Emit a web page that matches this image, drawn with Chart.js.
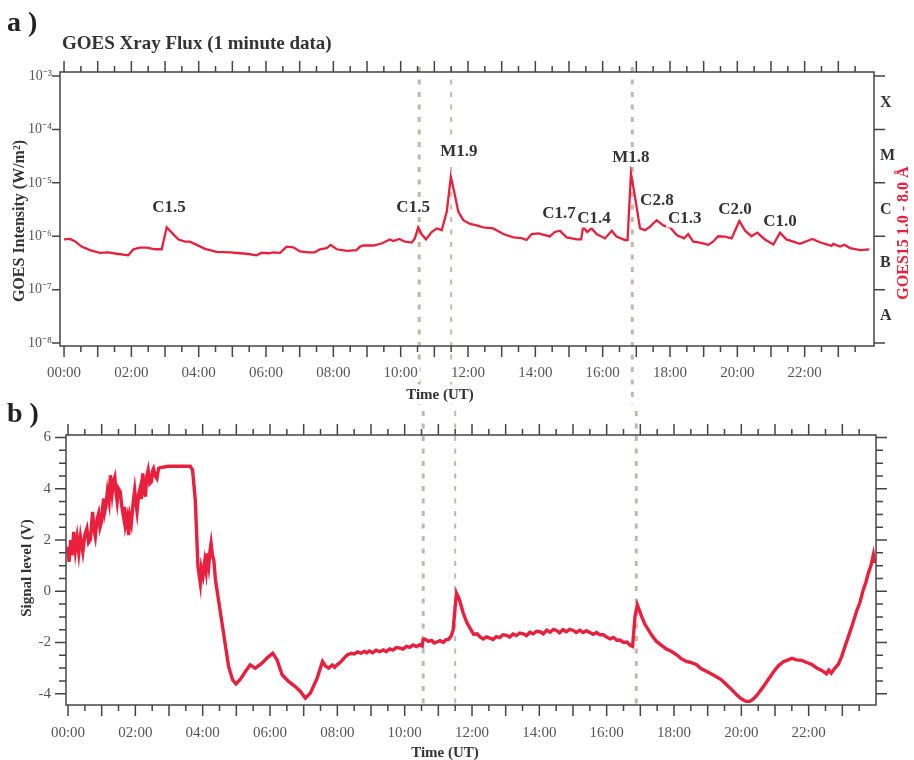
<!DOCTYPE html>
<html>
<head>
<meta charset="utf-8">
<script src="https://cdn.jsdelivr.net/npm/chart.js@4.4.1/dist/chart.umd.min.js"></script>
<style>
	body { margin: 0; background: #fff; }
	#wrap { position: relative; width: 914px; height: 760px; }
	#goes { position: absolute; left: 0; top: 0; }
	#vlf { position: absolute; left: 0; top: 390px; }
</style>
</head>
<body>
<div id="wrap">
	<canvas id="goes" width="914" height="405"></canvas>
	<canvas id="vlf" width="914" height="370"></canvas>
</div>
<script>
// GOES 1.0-8.0 A flux, hours UT / W m-2
var goesTime = [0, 0.18, 0.33, 0.52, 0.77, 1.07, 1.32, 1.56, 1.91, 2.06, 2.26, 2.46, 2.70, 2.90, 3.05, 3.20, 3.40, 3.59, 3.74, 3.94,
	4.19, 4.53, 4.93, 5.23, 5.43, 5.72, 5.87, 6.07, 6.22, 6.42, 6.61, 6.81, 7.01, 7.26, 7.45, 7.60, 7.80, 7.92, 8.10, 8.40,
	8.69, 8.79, 8.89, 9.19, 9.43, 9.68, 9.78, 9.96, 10.13, 10.33, 10.42, 10.52, 10.62, 10.75, 10.92, 11.07, 11.22, 11.37, 11.49, 11.61,
	11.71, 11.86, 12.06, 12.26, 12.45, 12.75, 13.05, 13.35, 13.59, 13.74, 13.89, 14.09, 14.29, 14.43, 14.58, 14.73, 14.93, 15.23, 15.36, 15.42,
	15.54, 15.67, 15.82, 16.07, 16.27, 16.41, 16.66, 16.74, 16.84, 16.96, 17.11, 17.26, 17.40, 17.60, 17.80, 18.00, 18.20, 18.42, 18.54, 18.69,
	18.89, 19.14, 19.28, 19.43, 19.63, 19.83, 20.06, 20.23, 20.42, 20.59, 20.82, 21.07, 21.27, 21.46, 21.66, 21.86, 22.23, 22.45, 22.80, 22.85,
	23.05, 23.18, 23.35, 23.65, 23.92];
var goesFlux = [8.7e-7, 8.9e-7, 8.0e-7, 6.4e-7, 5.5e-7, 4.9e-7, 5.0e-7, 4.7e-7, 4.4e-7, 5.7e-7, 6.1e-7, 6.1e-7, 5.7e-7, 5.7e-7, 1.47e-6, 1.17e-6, 8.7e-7, 7.9e-7, 7.9e-7, 6.9e-7,
	5.8e-7, 5.1e-7, 5.0e-7, 4.8e-7, 4.7e-7, 4.4e-7, 4.9e-7, 4.8e-7, 5.0e-7, 4.9e-7, 6.4e-7, 6.2e-7, 5.2e-7, 5.0e-7, 5.0e-7, 5.7e-7, 6.0e-7, 6.9e-7, 5.7e-7, 5.3e-7,
	5.5e-7, 6.4e-7, 6.7e-7, 6.7e-7, 7.3e-7, 8.7e-7, 8.1e-7, 8.9e-7, 7.9e-7, 7.6e-7, 9.1e-7, 1.47e-6, 1.1e-6, 8.7e-7, 1.2e-6, 1.4e-6, 1.3e-6, 2.9e-6, 1.3e-5, 5.9e-6,
	2.9e-6, 2.0e-6, 1.7e-6, 1.6e-6, 1.47e-6, 1.4e-6, 1.1e-6, 9.5e-7, 9.2e-7, 8.5e-7, 1.1e-6, 1.13e-6, 1.05e-6, 9.9e-7, 1.2e-6, 1.27e-6, 9.5e-7, 8.7e-7, 8.7e-7, 1.5e-6,
	1.2e-6, 1.4e-6, 1.1e-6, 9.1e-7, 1.27e-6, 9.9e-7, 8.5e-7, 8.5e-7, 1.5e-5, 5.5e-6, 1.4e-6, 1.3e-6, 1.5e-6, 2.0e-6, 1.6e-6, 1.47e-6, 1.05e-6, 9.1e-7, 1.1e-6, 7.9e-7,
	7.6e-7, 6.9e-7, 7.9e-7, 1.0e-6, 9.8e-7, 9.1e-7, 1.93e-6, 1.27e-6, 1.0e-6, 1.17e-6, 8.7e-7, 7.0e-7, 1.17e-6, 8.7e-7, 7.9e-7, 7.2e-7, 8.9e-7, 7.7e-7, 6.6e-7, 7.2e-7,
	6.4e-7, 6.9e-7, 6.0e-7, 5.5e-7, 5.7e-7];

// VLF receiver signal, hours UT / volts
var signalTime = [0.00, 0.03, 0.08, 0.12, 0.17, 0.22, 0.27, 0.32, 0.37, 0.44,
	0.50, 0.56, 0.61, 0.66, 0.70, 0.73, 0.77, 0.81, 0.86, 0.91,
	0.95, 0.99, 1.03, 1.06, 1.09, 1.12, 1.17, 1.22, 1.26, 1.31,
	1.35, 1.39, 1.43, 1.46, 1.50, 1.55, 1.60, 1.65, 1.68, 1.71,
	1.76, 1.80, 1.84, 1.88, 1.93, 1.98, 2.02, 2.05, 2.10, 2.15,
	2.18, 2.22, 2.26, 2.30, 2.34, 2.38, 2.43, 2.48, 2.51, 2.54,
	2.59, 2.64, 2.69, 2.74, 2.85, 2.99, 3.63, 3.70, 3.78, 3.86,
	3.93, 3.96, 4.01, 4.06, 4.10, 4.13, 4.18, 4.22, 4.25, 4.29,
	4.33, 4.38, 4.47, 4.62, 4.77, 4.89, 4.99, 5.12, 5.27, 5.41,
	5.56, 5.76, 5.91, 6.08, 6.21, 6.36, 6.55, 6.75, 6.90, 7.05,
	7.20, 7.40, 7.56, 7.65, 7.74, 7.85, 7.92, 7.99, 8.07, 8.14,
	8.22, 8.30, 8.42, 8.50, 8.60, 8.70, 8.80, 8.87, 8.95, 9.05,
	9.15, 9.25, 9.37, 9.45, 9.55, 9.65, 9.75, 9.86, 9.95, 10.05,
	10.15, 10.25, 10.35, 10.45, 10.52, 10.55, 10.62, 10.70, 10.80, 10.88,
	10.95, 11.05, 11.15, 11.22, 11.30, 11.38, 11.44, 11.50, 11.54, 11.62,
	11.74, 11.84, 11.94, 12.05, 12.15, 12.24, 12.33, 12.43, 12.53, 12.63,
	12.72, 12.82, 12.92, 13.03, 13.12, 13.22, 13.32, 13.42, 13.52, 13.62,
	13.72, 13.82, 13.92, 14.02, 14.12, 14.22, 14.32, 14.42, 14.51, 14.60,
	14.70, 14.80, 14.90, 15.01, 15.10, 15.20, 15.30, 15.40, 15.50, 15.60,
	15.70, 15.80, 15.90, 16.00, 16.10, 16.20, 16.30, 16.39, 16.50, 16.60,
	16.69, 16.77, 16.84, 16.91, 17.04, 17.14, 17.24, 17.34, 17.48, 17.60,
	17.78, 17.90, 18.08, 18.20, 18.37, 18.50, 18.67, 18.80, 18.97, 19.10,
	19.27, 19.40, 19.56, 19.70, 19.86, 20.00, 20.14, 20.25, 20.35, 20.47,
	20.60, 20.72, 20.85, 20.97, 21.10, 21.25, 21.39, 21.50, 21.64, 21.80,
	21.94, 22.10, 22.24, 22.40, 22.53, 22.60, 22.67, 22.78, 22.88, 22.98,
	23.08, 23.18, 23.30, 23.42, 23.52, 23.62, 23.70, 23.77, 23.85, 23.92,
	23.95];
var signalLevel = [1.74, 1.15, 2.0, 1.4, 2.32, 1.6, 2.1, 1.5, 2.13, 1.54,
	2.2, 2.45, 1.9, 2.0, 2.6, 3.1, 2.4, 2.13, 2.8, 3.04,
	2.5, 2.7, 3.3, 3.62, 3.1, 3.3, 3.9, 3.5, 4.53, 3.82,
	4.3, 4.46, 3.8, 3.49, 4.0, 3.88, 3.3, 2.91, 3.3, 2.6,
	2.9, 2.19, 2.9, 2.65, 3.4, 3.95, 3.4, 3.1, 3.8, 4.07,
	3.6, 4.6, 4.1, 3.69, 4.5, 4.73, 4.2, 4.27, 4.7, 4.79,
	4.5, 4.4, 4.8, 4.83, 4.85, 4.88, 4.88, 4.73, 3.56, 0.96,
	0.31, 0.9, 0.6, 1.15, 0.8, 1.48, 1.0, 1.6, 1.87, 1.4,
	1.22, 0.44, -0.34, -1.64, -2.94, -3.46, -3.62, -3.43, -3.13, -2.87,
	-3.0, -2.81, -2.61, -2.42, -2.68, -3.26, -3.52, -3.72, -3.91, -4.17,
	-3.97, -3.39, -2.74, -2.92, -3.0, -2.88, -2.97, -2.87, -2.8, -2.70,
	-2.58, -2.48, -2.42, -2.45, -2.37, -2.42, -2.35, -2.40, -2.33, -2.40,
	-2.30, -2.36, -2.29, -2.36, -2.25, -2.30, -2.20, -2.22, -2.26, -2.15,
	-2.19, -2.10, -2.16, -2.09, -2.14, -1.88, -1.87, -1.96, -1.92, -2.02,
	-1.98, -1.93, -2.00, -1.90, -1.88, -1.75, -1.51, -0.6, -0.08, -0.3,
	-0.86, -1.2, -1.44, -1.68, -1.66, -1.78, -1.86, -1.78, -1.83, -1.88,
	-1.77, -1.81, -1.70, -1.72, -1.79, -1.67, -1.73, -1.63, -1.66, -1.73,
	-1.60, -1.66, -1.56, -1.58, -1.66, -1.52, -1.60, -1.49, -1.53, -1.62,
	-1.50, -1.58, -1.49, -1.53, -1.61, -1.52, -1.61, -1.54, -1.61, -1.68,
	-1.61, -1.70, -1.70, -1.79, -1.86, -1.80, -1.91, -1.90, -2.00, -1.98,
	-2.10, -2.15, -0.99, -0.53, -0.99, -1.30, -1.51, -1.72, -1.96, -2.08,
	-2.26, -2.33, -2.48, -2.62, -2.74, -2.78, -2.87, -3.02, -3.13, -3.22,
	-3.35, -3.45, -3.65, -3.82, -4.04, -4.20, -4.30, -4.30, -4.21, -4.05,
	-3.82, -3.60, -3.35, -3.12, -2.91, -2.75, -2.68, -2.62, -2.68, -2.70,
	-2.78, -2.86, -3.0, -3.10, -3.22, -3.08, -3.20, -3.0, -2.85, -2.55,
	-2.15, -1.77, -1.30, -0.79, -0.45, 0.05, 0.35, 0.70, 1.0, 1.41,
	1.1];

var hourTicks = [0, 2, 4, 6, 8, 10, 12, 14, 16, 18, 20, 22];
var decadeTicks = [1e-8, 1e-7, 1e-6, 1e-5, 1e-4, 1e-3];
var classLetters = ['A', 'B', 'C', 'M', 'X'];
var classCentres = [3.16e-8, 3.16e-7, 3.16e-6, 3.16e-5, 3.16e-4];
var signalTicks = [-4, -2, 0, 2, 4, 6];

var flareNames = ['C1.5', 'C1.5', 'M1.9', 'C1.7', 'C1.4', 'M1.8', 'C2.8', 'C1.3', 'C2.0', 'C1.0'];
var flareLabelTime = [3.12, 10.37, 11.73, 14.70, 15.74, 16.84, 17.61, 18.44, 19.93, 21.27];
var flareLabelFlux = [3.45e-6, 3.45e-6, 3.9e-5, 2.7e-6, 2.15e-6, 3.0e-5, 4.6e-6, 2.15e-6, 3.1e-6, 1.85e-6];

// dashed markers common to both panels
var eventTimes = [10.55, 11.5, 16.88];
var eventWidths = [3, 2, 3];

var SERIF = "'Liberation Serif', 'Times New Roman', serif";
var RED = '#e8203e';
var AXIS = '#444';

var toPoints = function(xs, ys) {
	return xs.map(function(x, i) { return {x: x, y: ys[i]}; });
};

var hourLabel = function(v) {
	return (v < 10 ? '0' : '') + v + ':00';
};

var SUP = {'-': '\u207b', '0': '\u2070', '1': '\u00b9', '2': '\u00b2', '3': '\u00b3', '4': '\u2074',
	'5': '\u2075', '6': '\u2076', '7': '\u2077', '8': '\u2078', '9': '\u2079'};
var powerLabel = function(v) {
	var e = String(Math.round(Math.log10(v)));
	return '10' + e.split('').map(function(c) { return SUP[c]; }).join('');
};

// box frame with major/minor tick marks on all four sides
var drawFrame = function(chart, yMinor, yMajorEvery, leftLen, rightLen) {
	var ctx = chart.ctx, a = chart.chartArea;
	var xs = chart.scales.x, ys = chart.scales.y;
	ctx.save();
	ctx.strokeStyle = AXIS;
	ctx.lineWidth = 1.5;
	ctx.strokeRect(a.left, a.top, a.right - a.left, a.bottom - a.top);
	ctx.beginPath();
	for (var h = 0; h < 24; h += 0.5) {
		var px = xs.getPixelForValue(h);
		var len = (h % 1 === 0) ? 11 : 6;
		ctx.moveTo(px, a.bottom); ctx.lineTo(px, a.bottom + len);
		ctx.moveTo(px, a.top); ctx.lineTo(px, a.top - len);
	}
	yMinor.forEach(function(v, i) {
		var py = ys.getPixelForValue(v);
		var major = (i % yMajorEvery === 0);
		ctx.moveTo(a.left, py); ctx.lineTo(a.left - (major ? leftLen[0] : leftLen[1]), py);
		ctx.moveTo(a.right, py); ctx.lineTo(a.right + (major ? rightLen[0] : rightLen[1]), py);
	});
	ctx.stroke();
	ctx.restore();
};

var drawEvents = function(chart, fromTop, toY) {
	var ctx = chart.ctx, a = chart.chartArea, xs = chart.scales.x;
	ctx.save();
	ctx.strokeStyle = 'rgba(178, 168, 146, 0.8)';
	ctx.setLineDash([5, 7.5]);
	eventTimes.forEach(function(t, i) {
		var px = xs.getPixelForValue(t);
		ctx.lineWidth = eventWidths[i];
		ctx.beginPath();
		ctx.moveTo(px, a.top - fromTop);
		ctx.lineTo(px, toY);
		ctx.stroke();
	});
	ctx.restore();
};

var boxedText = function(ctx, text, x, y) {
	var w = ctx.measureText(text).width;
	ctx.fillStyle = '#fff';
	ctx.fillRect(x - w / 2 - 2, y - 9, w + 4, 18);
	ctx.fillStyle = '#333';
	ctx.fillText(text, x, y);
};

var rotatedText = function(ctx, text, x, y, colour) {
	ctx.save();
	ctx.translate(x, y);
	ctx.rotate(-Math.PI / 2);
	ctx.fillStyle = colour;
	ctx.textAlign = 'center';
	ctx.textBaseline = 'middle';
	ctx.fillText(text, 0, 0);
	ctx.restore();
};

var goesDecor = {
	id: 'goesDecor',
	beforeDatasetsDraw: function(chart) {
		drawEvents(chart, 5, chart.height);
	},
	afterDatasetsDraw: function(chart) {
		var ctx = chart.ctx, xs = chart.scales.x, ys = chart.scales.y;
		ctx.save();
		ctx.font = 'bold 17px ' + SERIF;
		ctx.textAlign = 'center';
		ctx.textBaseline = 'middle';
		flareNames.forEach(function(name, i) {
			boxedText(ctx, name, xs.getPixelForValue(flareLabelTime[i]), ys.getPixelForValue(flareLabelFlux[i]));
		});
		ctx.restore();
	},
	afterDraw: function(chart) {
		var ctx = chart.ctx;
		drawFrame(chart, decadeTicks, 1, [8, 8], [11, 11]);
		ctx.save();
		ctx.textBaseline = 'alphabetic';
		ctx.fillStyle = '#222';
		ctx.font = 'bold 28px ' + SERIF;
		ctx.fillText('a )', 7, 31);
		ctx.fillStyle = '#333';
		ctx.font = 'bold 19px ' + SERIF;
		ctx.textBaseline = 'middle';
		ctx.fillText('GOES Xray Flux (1 minute data)', 62, 44);
		ctx.font = 'bold 16px ' + SERIF;
		rotatedText(ctx, 'GOES Intensity (W/m\u00b2)', 20, 221, '#333');
		rotatedText(ctx, 'GOES15 1.0 - 8.0 \u00c5', 904, 233, RED);
		ctx.font = 'bold 15px ' + SERIF;
		ctx.textAlign = 'center';
		boxedText(ctx, 'Time (UT)', 440, 395);
		ctx.restore();
	}
};

var vlfDecor = {
	id: 'vlfDecor',
	beforeDatasetsDraw: function(chart) {
		drawEvents(chart, 24, chart.chartArea.bottom + 2);
	},
	afterDraw: function(chart) {
		var ctx = chart.ctx, halfVolts = [];
		for (var v = -4; v <= 6; v += 0.5) halfVolts.push(v);
		drawFrame(chart, halfVolts, 4, [11, 7], [11, 7]);
		ctx.save();
		ctx.fillStyle = '#222';
		ctx.font = 'bold 28px ' + SERIF;
		ctx.fillText('b )', 7, 32);
		ctx.font = 'bold 15px ' + SERIF;
		rotatedText(ctx, 'Signal level (V)', 27, 178, '#333');
		ctx.textAlign = 'center';
		ctx.textBaseline = 'middle';
		ctx.fillStyle = '#333';
		ctx.fillText('Time (UT)', 445, 363);
		ctx.restore();
	}
};

var timeAxis = function(min, max, height, pad) {
	return {
		type: 'linear', position: 'bottom', min: min, max: max,
		afterBuildTicks: function(s) { s.ticks = hourTicks.map(function(v) { return {value: v}; }); },
		afterFit: function(s) { s.height = height; },
		grid: {display: false, drawTicks: false},
		border: {display: false},
		ticks: {
			z: 1, padding: pad, color: '#555', autoSkip: false, maxRotation: 0,
			font: {family: SERIF, size: 15},
			showLabelBackdrop: true, backdropColor: '#fff', backdropPadding: {x: 2, y: 0},
			callback: hourLabel
		}
	};
};

new Chart(document.getElementById('goes'), {
	type: 'line',
	data: {
		datasets: [{
			label: 'GOES15 1.0 - 8.0 A',
			data: toPoints(goesTime, goesFlux),
			borderColor: RED, borderWidth: 2.3, pointRadius: 0, tension: 0
		}]
	},
	options: {
		responsive: false, animation: false,
		layout: {padding: {top: 72}},
		plugins: {legend: {display: false}, tooltip: {enabled: false}},
		scales: {
			x: timeAxis(-0.12, 24.06, 59, 18),
			y: {
				type: 'logarithmic', position: 'left', min: 8.8e-9, max: 1.19e-3,
				afterBuildTicks: function(s) { s.ticks = decadeTicks.map(function(v) { return {value: v}; }); },
				afterFit: function(s) { s.width = 60; },
				grid: {display: false, drawTicks: false},
				border: {display: false},
				ticks: {padding: 8, color: '#555', font: {family: SERIF, size: 14}, callback: powerLabel}
			},
			y2: {
				type: 'logarithmic', position: 'right', min: 8.8e-9, max: 1.19e-3,
				afterBuildTicks: function(s) { s.ticks = classCentres.map(function(v) { return {value: v}; }); },
				afterFit: function(s) { s.width = 40; },
				grid: {display: false, drawTicks: false},
				border: {display: false},
				ticks: {
					padding: 6, color: '#333', font: {family: SERIF, size: 16, weight: 'bold'},
					callback: function(v, i) { return classLetters[i]; }
				}
			}
		}
	},
	plugins: [goesDecor]
});

new Chart(document.getElementById('vlf'), {
	type: 'line',
	data: {
		datasets: [{
			label: 'Signal level',
			data: toPoints(signalTime, signalLevel),
			borderColor: RED, borderWidth: 3.4, pointRadius: 0, tension: 0
		}]
	},
	options: {
		responsive: false, animation: false,
		layout: {padding: {top: 45, right: 38}},
		plugins: {legend: {display: false}, tooltip: {enabled: false}},
		scales: {
			x: timeAxis(-0.06, 24.0, 55, 19),
			y: {
				type: 'linear', position: 'left', min: -4.44, max: 6.1,
				afterBuildTicks: function(s) { s.ticks = signalTicks.map(function(v) { return {value: v}; }); },
				afterFit: function(s) { s.width = 66; },
				grid: {display: false, drawTicks: false},
				border: {display: false},
				ticks: {padding: 15, color: '#555', font: {family: SERIF, size: 15}}
			}
		}
	},
	plugins: [vlfDecor]
});
</script>
</body>
</html>
